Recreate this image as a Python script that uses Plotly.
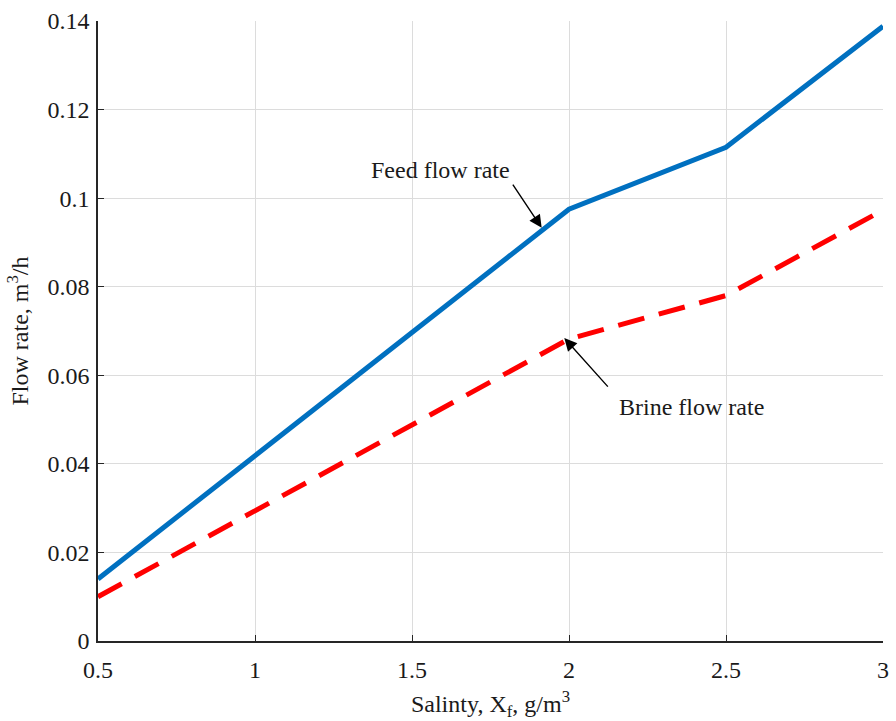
import plotly.graph_objects as go

salinity = [0.5, 1.0, 1.5, 2.0, 2.5, 3.0]
feed_flow = [0.0140, 0.0418, 0.0697, 0.0975, 0.1115, 0.1388]
brine_flow = [0.0100, 0.0293, 0.0487, 0.0682, 0.0780, 0.0973]

FONT = "Liberation Serif, Times New Roman, serif"

fig = go.Figure()
fig.add_trace(go.Scatter(x=salinity, y=feed_flow, mode="lines",
                         line=dict(color="#0070C0", width=5), name="Feed flow rate"))
fig.add_trace(go.Scatter(x=salinity, y=brine_flow, mode="lines",
                         line=dict(color="#FF0000", width=5, dash="27px,15px"), name="Brine flow rate"))

axis_common = dict(showline=True, linecolor="#262626", linewidth=1.5, mirror=False,
                   ticks="inside", ticklen=6, tickcolor="#262626",
                   showgrid=True, gridcolor="#DCDCDC", gridwidth=1, zeroline=False,
                   tickfont=dict(family=FONT, size=24, color="#1a1a1a"))

fig.update_xaxes(range=[0.5, 3], tickvals=[0.5, 1, 1.5, 2, 2.5, 3],
                 ticktext=["0.5", "1", "1.5", "2", "2.5", "3"],
                 ticklabelstandoff=6,
                 title=dict(text="Salinty, X<sub>f</sub>, g/m<sup>3</sup>",
                            font=dict(family=FONT, size=24, color="#1a1a1a"), standoff=14),
                 **axis_common)
fig.update_yaxes(range=[0, 0.14], tickvals=[0, 0.02, 0.04, 0.06, 0.08, 0.1, 0.12, 0.14],
                 ticktext=["0", "0.02", "0.04", "0.06", "0.08", "0.1", "0.12", "0.14"],
                 ticklabelstandoff=2,
                 title=dict(text="Flow rate, m<sup>3</sup>/h",
                            font=dict(family=FONT, size=24, color="#1a1a1a"), standoff=12),
                 **axis_common)

# Arrows
fig.add_annotation(x=1.913, y=0.0933, ax=1.818, ay=0.1034, xref="x", yref="y",
                   axref="x", ayref="y", text="", showarrow=True, arrowhead=2,
                   arrowsize=1.8, arrowwidth=1.4, arrowcolor="black")
fig.add_annotation(x=1.985, y=0.0684, ax=2.128, ay=0.0571, xref="x", yref="y",
                   axref="x", ayref="y", text="", showarrow=True, arrowhead=2,
                   arrowsize=1.8, arrowwidth=1.4, arrowcolor="black")
# Labels
fig.add_annotation(x=1.59, y=0.1064, xref="x", yref="y", text="Feed flow rate",
                   showarrow=False, font=dict(family=FONT, size=24, color="#1a1a1a"))
fig.add_annotation(x=2.39, y=0.0528, xref="x", yref="y", text="Brine flow rate",
                   showarrow=False, font=dict(family=FONT, size=24, color="#1a1a1a"))

fig.update_layout(width=896, height=721, showlegend=False,
                  plot_bgcolor="white", paper_bgcolor="white",
                  margin=dict(l=98, r=7, t=21, b=80))

fig.write_html("out.html")
